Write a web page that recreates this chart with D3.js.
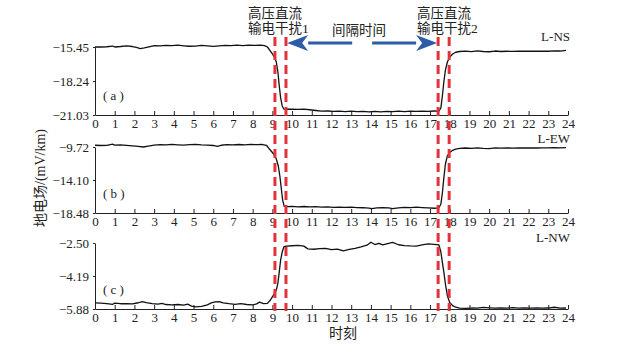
<!doctype html>
<html>
<head>
<meta charset="utf-8" />
<title>地电场 – 高压直流输电干扰</title>
<script src="https://cdn.jsdelivr.net/npm/d3@7"></script>
<style>
  html,body{margin:0;background:#fff}
  svg{display:block}
  text{font-family:"Liberation Serif","Noto Sans CJK SC",serif;fill:#222}
  .axis path,.axis line{stroke:#222;stroke-width:1}
  .axis text{font-size:13px}
</style>
</head>
<body>
<svg id="chart" width="626" height="346"></svg>
<script>
// hour ticks and panel names
const hourTicks = d3.range(0, 25);
const panelNames = ["( a )", "( b )", "( c )"];
const seriesNames = ["L-NS", "L-EW", "L-NW"];

// y-axis tick values per panel (bottom, mid, top)
const ticksNS = [-21.03, -18.24, -15.45];
const ticksEW = [-18.48, -14.10, -9.72];
const ticksNW = [-5.88, -4.19, -2.50];

// L-NS
const hoursNS = [0,0.3,0.6,0.9,1.0,1.3,1.6,1.9,2.1,2.3,2.5,2.8,3.0,3.3,3.6,3.9,4.2,4.5,4.8,5.1,5.4,5.7,6.0,6.3,6.6,6.9,7.2,7.5,7.8,8.1,8.4,8.6,8.75,8.9,9.0,9.1,9.2,9.28,9.35,9.42,9.5,9.58,9.7,10.0,10.3,10.6,10.9,11.2,11.5,11.8,12.1,12.4,12.7,13.0,13.3,13.6,13.9,14.2,14.5,14.8,15.1,15.4,15.7,16.0,16.3,16.6,16.9,17.2,17.45,17.55,17.62,17.7,17.78,17.88,18.0,18.15,18.3,18.5,18.8,19.1,19.4,19.7,20.0,20.3,20.6,20.9,21.2,21.5,21.8,22.1,22.4,22.7,23.0,23.3,23.6,23.9];
const valuesNS = [-15.45,-15.45,-15.43,-15.37,-15.45,-15.41,-15.35,-15.41,-15.49,-15.58,-15.52,-15.41,-15.33,-15.35,-15.31,-15.34,-15.30,-15.35,-15.39,-15.37,-15.32,-15.35,-15.40,-15.36,-15.31,-15.34,-15.29,-15.33,-15.29,-15.31,-15.29,-15.34,-15.45,-15.78,-16.02,-16.27,-16.68,-17.50,-18.65,-19.63,-20.29,-20.54,-20.56,-20.54,-20.57,-20.55,-20.60,-20.66,-20.72,-20.70,-20.74,-20.72,-20.75,-20.72,-20.76,-20.73,-20.77,-20.74,-20.77,-20.73,-20.76,-20.72,-20.75,-20.72,-20.74,-20.71,-20.73,-20.70,-20.72,-20.45,-19.55,-18.32,-17.34,-16.68,-16.27,-16.02,-15.88,-15.82,-15.79,-15.83,-15.77,-15.82,-15.84,-15.78,-15.82,-15.80,-15.81,-15.79,-15.80,-15.79,-15.80,-15.79,-15.80,-15.77,-15.78,-15.73];

// L-EW
const hoursEW = [0,0.3,0.6,0.9,1.0,1.3,1.6,1.9,2.2,2.45,2.7,3.0,3.3,3.6,3.9,4.2,4.5,4.8,5.1,5.4,5.7,6.0,6.2,6.4,6.7,7.0,7.3,7.6,7.9,8.2,8.5,8.7,8.85,9.0,9.1,9.2,9.3,9.38,9.45,9.52,9.6,9.75,10.0,10.3,10.6,10.9,11.2,11.5,11.8,12.1,12.4,12.7,13.0,13.3,13.6,13.9,14.05,14.3,14.6,14.9,15.1,15.4,15.7,16.0,16.3,16.6,16.9,17.2,17.45,17.55,17.62,17.7,17.78,17.88,18.0,18.15,18.3,18.5,18.8,19.1,19.4,19.7,20.0,20.3,20.6,20.9,21.2,21.5,21.8,22.1,22.4,22.7,23.0,23.3,23.6,23.9];
const valuesEW = [-9.49,-9.52,-9.51,-9.35,-9.48,-9.45,-9.51,-9.56,-9.63,-9.72,-9.59,-9.48,-9.40,-9.44,-9.37,-9.43,-9.48,-9.40,-9.36,-9.43,-9.47,-9.52,-9.65,-9.49,-9.41,-9.45,-9.39,-9.43,-9.37,-9.41,-9.39,-9.49,-9.99,-10.45,-10.78,-11.31,-12.24,-13.57,-15.16,-16.75,-17.59,-17.63,-17.61,-17.66,-17.62,-17.68,-17.64,-17.71,-17.68,-17.73,-17.69,-17.74,-17.71,-17.76,-17.78,-17.84,-17.91,-17.81,-17.76,-17.81,-17.89,-17.80,-17.73,-17.77,-17.71,-17.76,-17.80,-17.85,-17.79,-17.29,-15.96,-13.83,-11.98,-10.91,-10.45,-10.16,-10.01,-9.91,-9.85,-9.89,-9.83,-9.91,-9.93,-9.84,-9.88,-9.85,-9.86,-9.83,-9.85,-9.84,-9.85,-9.83,-9.84,-9.80,-9.83,-9.79];

// L-NW
const hoursNW = [0,0.3,0.6,0.9,1.0,1.3,1.6,1.9,2.2,2.4,2.6,2.9,3.2,3.4,3.6,3.9,4.2,4.5,4.7,4.9,5.1,5.4,5.7,5.9,6.1,6.3,6.5,6.8,7.1,7.4,7.7,8.0,8.2,8.35,8.55,8.75,8.9,9.0,9.1,9.2,9.28,9.35,9.42,9.5,9.58,9.7,10.0,10.3,10.6,10.8,11.1,11.4,11.7,12.0,12.3,12.6,12.9,13.2,13.5,13.8,14.0,14.2,14.4,14.6,14.8,15.1,15.4,15.7,16.0,16.3,16.6,16.9,17.2,17.45,17.55,17.62,17.7,17.78,17.88,18.0,18.15,18.3,18.5,18.8,19.1,19.4,19.7,20.0,20.3,20.6,20.9,21.2,21.5,21.8,22.1,22.4,22.7,23.0,23.3,23.6,23.9];
const valuesNW = [-5.57,-5.58,-5.60,-5.64,-5.58,-5.61,-5.60,-5.62,-5.56,-5.50,-5.55,-5.60,-5.63,-5.59,-5.65,-5.67,-5.65,-5.68,-5.63,-5.73,-5.77,-5.75,-5.67,-5.57,-5.52,-5.50,-5.57,-5.61,-5.64,-5.61,-5.65,-5.67,-5.62,-5.53,-5.60,-5.59,-5.42,-5.26,-5.11,-4.91,-4.55,-3.98,-3.37,-2.96,-2.70,-2.66,-2.64,-2.62,-2.66,-2.80,-2.82,-2.79,-2.78,-2.84,-2.81,-2.90,-2.83,-2.77,-2.70,-2.61,-2.46,-2.58,-2.52,-2.60,-2.55,-2.47,-2.59,-2.63,-2.65,-2.66,-2.60,-2.55,-2.57,-2.60,-2.96,-3.47,-3.98,-4.60,-5.21,-5.55,-5.71,-5.79,-5.84,-5.85,-5.83,-5.84,-5.80,-5.82,-5.84,-5.83,-5.84,-5.81,-5.84,-5.83,-5.84,-5.83,-5.84,-5.83,-5.79,-5.84,-5.83];

// disturbance markers (hours) and the interval arrows
const markerHours = [9.13, 9.69, 17.41, 17.97];
const arrowLeft = [13.05, 9.75];   // shaft start -> tip
const arrowRight = [14.06, 17.36];

const svg = d3.select("#chart");
const x = d3.scaleLinear().domain([0, 24]).range([95, 568]);

const panels = [
  {hours: hoursNS, values: valuesNS, ticks: ticksNS, top: 47, bottom: 115, nameY: 38, tagY: 97},
  {hours: hoursEW, values: valuesEW, ticks: ticksEW, top: 147, bottom: 213, nameY: 140, tagY: 195},
  {hours: hoursNW, values: valuesNW, ticks: ticksNW, top: 243, bottom: 309, nameY: 239, tagY: 291}
];

panels.forEach((p, i) => {
  const y = d3.scaleLinear().domain([p.ticks[0], p.ticks[2]]).range([p.bottom, p.top]);

  svg.append("g").attr("class", "axis")
    .attr("transform", `translate(0,${p.bottom})`)
    .call(d3.axisBottom(x).tickValues(hourTicks).tickFormat(d3.format("d"))
      .tickSizeInner(-4).tickSizeOuter(0).tickPadding(4));

  svg.append("g").attr("class", "axis")
    .attr("transform", `translate(${x(0)},0)`)
    .call(d3.axisLeft(y).tickValues(p.ticks).tickFormat(d3.format(".2f"))
      .tickSizeInner(2).tickSizeOuter(0).tickPadding(4));

  const pts = p.hours.map((h, k) => [h, p.values[k]]);
  svg.append("path")
    .datum(pts)
    .attr("fill", "none")
    .attr("stroke", "#111")
    .attr("stroke-width", 1.3)
    .attr("stroke-linejoin", "round")
    .attr("d", d3.line().x(d => x(d[0])).y(d => y(d[1])));

  svg.append("text").attr("x", 570).attr("y", p.nameY)
    .attr("text-anchor", "end").attr("dominant-baseline", "middle")
    .style("font-size", "13px").text(seriesNames[i]);

  svg.append("text").attr("x", 103).attr("y", p.tagY)
    .attr("dominant-baseline", "middle")
    .style("font-size", "13px").text(panelNames[i]);
});

// red dashed disturbance lines
svg.selectAll(".marker").data(markerHours).join("line")
  .attr("class", "marker")
  .attr("x1", d => x(d)).attr("x2", d => x(d))
  .attr("y1", 37).attr("y2", 311)
  .attr("stroke", "#e3323a").attr("stroke-width", 3)
  .attr("stroke-dasharray", "9,5");

// blue interval arrows
const blue = "#2d5ca8";
[arrowLeft, arrowRight].forEach(([from, tip]) => {
  const dir = Math.sign(tip - from);
  const tx = x(tip), headLen = 21, half = 8, ay = 43;
  svg.append("line")
    .attr("x1", x(from)).attr("x2", tx - dir * headLen)
    .attr("y1", ay).attr("y2", ay)
    .attr("stroke", blue).attr("stroke-width", 3);
  svg.append("path")
    .attr("d", `M${tx},${ay} L${tx - dir * headLen},${ay - half} L${tx - dir * (headLen - 6)},${ay} L${tx - dir * headLen},${ay + half} Z`)
    .attr("fill", blue);
});

svg.append("text").attr("x", 359).attr("y", 32)
  .attr("text-anchor", "middle").attr("dominant-baseline", "middle")
  .style("font-size", "13.5px").text("间隔时间");

// disturbance annotations
[[248, "输电干扰1"], [417, "输电干扰2"]].forEach(([ax, line2]) => {
  const t = svg.append("text").attr("x", ax).style("font-size", "13.5px");
  t.append("tspan").attr("x", ax).attr("y", 18).text("高压直流");
  t.append("tspan").attr("x", ax).attr("y", 33).text(line2);
});

// axis titles
svg.append("text")
  .attr("transform", "translate(42,178) rotate(-90)")
  .attr("text-anchor", "middle").attr("dominant-baseline", "middle")
  .style("font-size", "14px").text("地电场/(mV/km)");

svg.append("text").attr("x", 343).attr("y", 335)
  .attr("text-anchor", "middle").attr("dominant-baseline", "middle")
  .style("font-size", "14px").text("时刻");
</script>
</body>
</html>
